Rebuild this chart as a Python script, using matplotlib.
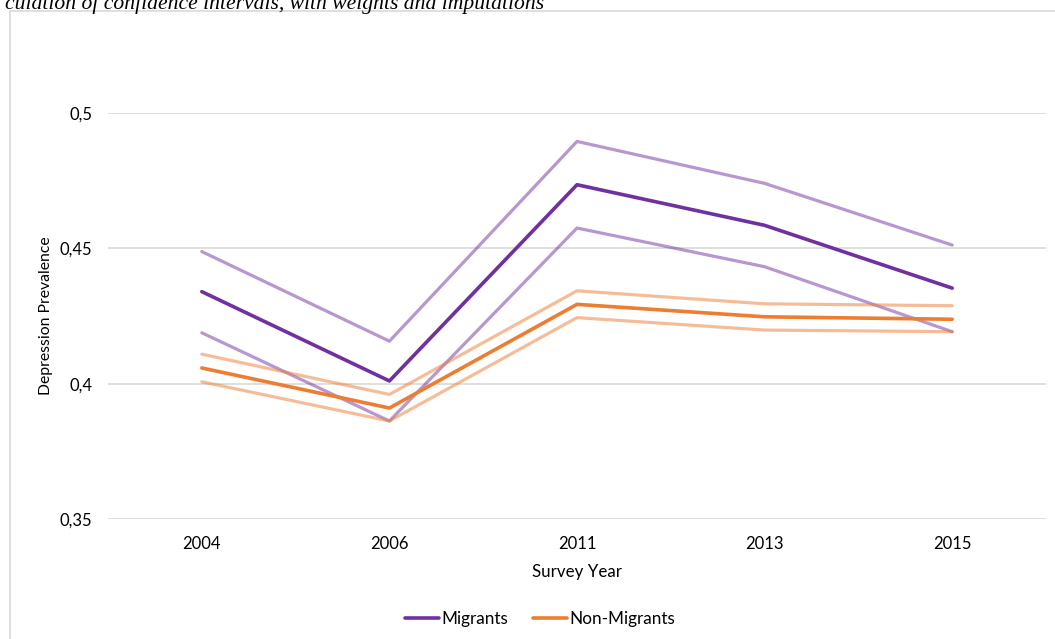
import matplotlib
matplotlib.use("Agg")
import matplotlib.pyplot as plt
from matplotlib.patches import Rectangle

years = ["2004", "2006", "2011", "2013", "2015"]
migrants = [0.434, 0.401, 0.4735, 0.4585, 0.4353]
migrants_upper = [0.4488, 0.4157, 0.4895, 0.474, 0.4512]
migrants_lower = [0.4188, 0.3862, 0.4575, 0.4432, 0.4192]
non_migrants = [0.4058, 0.391, 0.4293, 0.4247, 0.4238]
non_migrants_upper = [0.4109, 0.396, 0.4343, 0.4295, 0.4288]
non_migrants_lower = [0.4007, 0.3862, 0.4244, 0.4198, 0.4192]
yticks = [0.35, 0.4, 0.45, 0.5]
ytick_labels = ["0,35", "0,4", "0,45", "0,5"]

W, H = 1055, 639
fig = plt.figure(figsize=(W / 100, H / 100), dpi=100)
plt.rcParams['font.family'] = ['Lato', 'DejaVu Sans']

# chart box
fig.patches.append(Rectangle((10 / W, -0.05), 1.1, 1 - 11 / H + 0.05,
                             transform=fig.transFigure, facecolor="white",
                             edgecolor="#D9D9D9", linewidth=1.2, zorder=-5))

# cut-off caption at top
fig.text(5 / W, 1 - 9.5 / H, "culation of confidence intervals, with weights and imputations",
         family="Liberation Serif", style="italic", fontsize=15.6, color="black",
         ha="left", va="baseline")

ax = fig.add_axes([108 / W, 1 - 519 / H, (1046 - 108) / W, (519 - 113) / H])
ax.set_facecolor("none")
x = list(range(len(years)))

purple = "#7030A0"
orange = "#ED7D31"
ax.plot(x, migrants_upper, color=purple, alpha=0.5, lw=2.3, solid_capstyle="round", clip_on=False)
ax.plot(x, migrants_lower, color=purple, alpha=0.5, lw=2.3, solid_capstyle="round", clip_on=False)
ax.plot(x, non_migrants_upper, color=orange, alpha=0.5, lw=2.3, solid_capstyle="round", clip_on=False)
ax.plot(x, non_migrants_lower, color=orange, alpha=0.5, lw=2.3, solid_capstyle="round", clip_on=False)
ax.plot(x, migrants, color=purple, lw=2.6, solid_capstyle="round", label="Migrants", clip_on=False)
ax.plot(x, non_migrants, color=orange, lw=2.6, solid_capstyle="round", label="Non-Migrants", clip_on=False)

ax.set_xlim(-0.5, len(years) - 0.5)
ax.set_ylim(0.35, 0.5)
ax.set_yticks(yticks)
ax.set_yticklabels(ytick_labels)
ax.set_xticks(x)
ax.set_xticklabels(years)
ax.grid(axis="y", color="#D9D9D9", lw=1.2)
ax.set_axisbelow(True)
for s in ax.spines.values():
    s.set_visible(False)
ax.tick_params(length=0, labelsize=12, colors="#000000")
ax.tick_params(axis="y", pad=11.5)
ax.tick_params(axis="x", pad=12.5)

ax.set_ylabel("Depression Prevalence", fontsize=11.3)
ax.yaxis.set_label_coords((53 - 108) / 938, 0.5)
ax.set_xlabel("Survey Year", fontsize=12.2)
ax.xaxis.set_label_coords(0.5, (519 - 564) / 406)

leg = ax.legend(loc="center", bbox_to_anchor=(540 / W, 1 - 619 / H),
                bbox_transform=fig.transFigure, ncol=2, frameon=False,
                fontsize=12.3, handlelength=2.0, handletextpad=0.1, columnspacing=1.5)

fig.savefig("out.png", dpi=100)
